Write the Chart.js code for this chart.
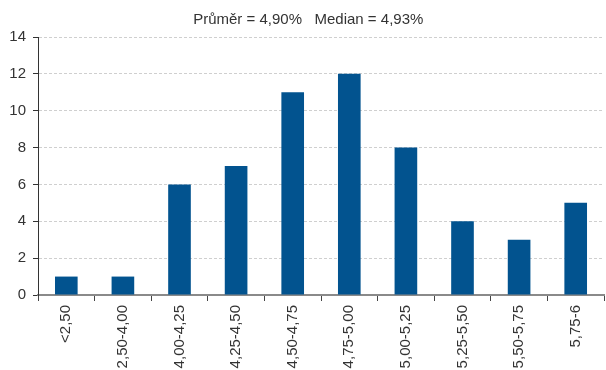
<!DOCTYPE html>
<html>
<head>
<meta charset="utf-8">
<script src="https://cdn.jsdelivr.net/npm/chart.js@4"></script>
<style>
  html, body { margin: 0; padding: 0; background: #fff; }
  #wrap { width: 606px; height: 370px; }
</style>
</head>
<body>
<div id="wrap"><canvas id="c" width="606" height="370"></canvas></div>
<script>
// Rozdělení odhadů do intervalů (%)
const categories = ['<2,50', '2,50-4,00', '4,00-4,25', '4,25-4,50', '4,50-4,75', '4,75-5,00', '5,00-5,25', '5,25-5,50', '5,50-5,75', '5,75-6'];
const counts = [1, 1, 6, 7, 11, 12, 8, 4, 3, 5];
const titleText = '   Průměr = 4,90%   Median = 4,93%';
const yMin = 0, yMax = 14, yStep = 2;

const font = "'Liberation Sans', Arial, sans-serif";

new Chart(document.getElementById('c'), {
  type: 'bar',
  data: {
    labels: categories,
    datasets: [{
      data: counts,
      backgroundColor: '#02538f',
      borderWidth: 0,
      categoryPercentage: 1,
      barPercentage: 0.4
    }]
  },
  options: {
    responsive: false,
    animation: false,
    layout: { padding: { left: 0, right: 2, top: 0, bottom: 0 } },
    plugins: {
      legend: { display: false },
      tooltip: { enabled: false },
      title: {
        display: true,
        text: titleText,
        color: '#333',
        font: { family: font, size: 15, weight: 'normal', lineHeight: 1.2 },
        padding: { top: 11, bottom: 8 }
      }
    },
    scales: {
      x: {
        afterFit: (s) => { s.height = 75; },
        grid: { drawOnChartArea: false, drawTicks: true, tickLength: 6, color: '#444', offset: true },
        border: { color: '#8a8a8a', width: 2 },
        ticks: {
          color: '#333',
          font: { family: font, size: 15 },
          minRotation: 90,
          maxRotation: 90,
          autoSkip: false,
          padding: 4
        }
      },
      y: {
        min: yMin,
        max: yMax,
        afterFit: (s) => { s.width = 38; },
        grid: { color: '#cfcfcf', tickColor: '#333', tickLength: 5, tickBorderDash: [] },
        border: { color: '#333', width: 1, dash: [3, 2] },
        ticks: {
          stepSize: yStep,
          color: '#333',
          font: { family: font, size: 15 },
          padding: 7
        }
      }
    }
  }
});
</script>
</body>
</html>
